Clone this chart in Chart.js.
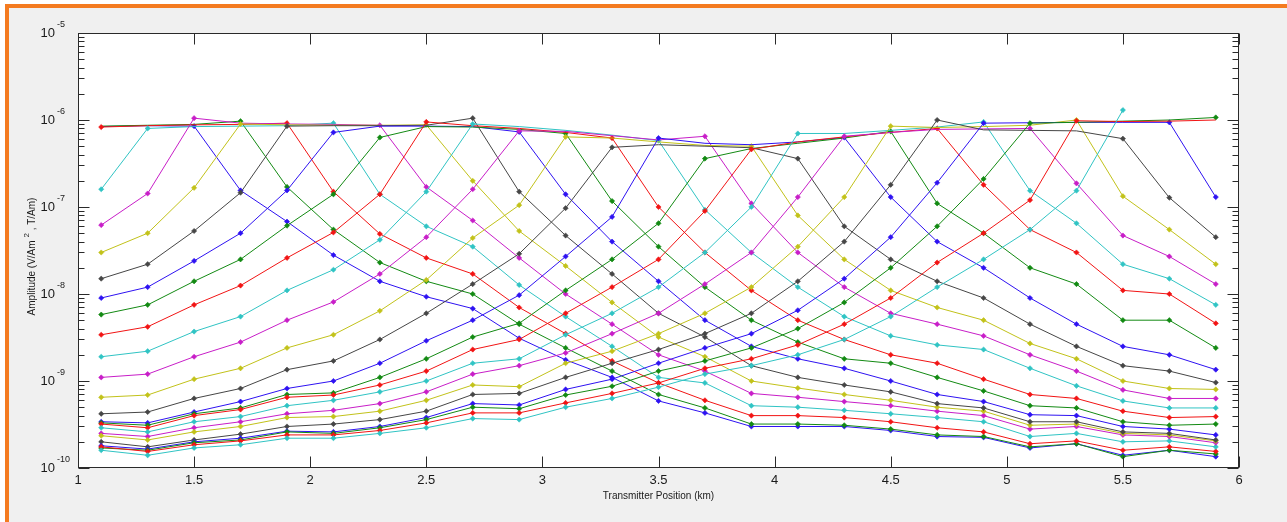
<!DOCTYPE html>
<html><head><meta charset="utf-8">
<script src="https://cdn.jsdelivr.net/npm/chart.js@4.4.1/dist/chart.umd.min.js"></script>
<style>
html,body{margin:0;padding:0;background:#fff;width:1287px;height:522px;overflow:hidden}
#frame{position:absolute;left:5px;top:4px;width:1282px;height:518px;box-sizing:border-box;border-left:4px solid #f47b20;border-top:4px solid #f47b20;background:#f0f0f0}
#c{position:absolute;left:0;top:0}
</style></head><body>
<div id="frame"></div>
<canvas id="c" width="1287" height="522"></canvas>
<script>
// Transmitter positions (km)
const xPos = [1.1,1.3,1.5,1.7,1.9,2.1,2.3,2.5,2.7,2.9,3.1,3.3,3.5,3.7,3.9,4.1,4.3,4.5,4.7,4.9,5.1,5.3,5.5,5.7,5.9];
const xTicks = [1,1.5,2,2.5,3,3.5,4,4.5,5,5.5,6];
const yExpTicks = [-10,-9,-8,-7,-6,-5];

// Amplitude per receiver (one array per receiver curve)
const s_m1 = [8.4e-7,8.6e-7,8.5e-7,1.55e-7,6.8e-8,2.8e-8,1.4e-8,9.3e-9,6.8e-9,3.1e-9,1.75e-9,1.1e-9,5.9e-10,4.3e-10,3.0e-10,3.0e-10,3.0e-10,2.7e-10,2.3e-10,2.25e-10,1.7e-10,1.9e-10,1.4e-10,1.6e-10,1.35e-10];
const s_0 = [8.5e-7,8.7e-7,8.9e-7,9.7e-7,1.7e-7,5.5e-8,2.3e-8,1.4e-8,1.0e-8,4.5e-9,2.4e-9,1.3e-9,7.0e-10,4.9e-10,3.2e-10,3.2e-10,3.1e-10,2.8e-10,2.4e-10,2.3e-10,1.75e-10,1.9e-10,1.35e-10,1.6e-10,1.45e-10];
const s_1 = [8.3e-7,8.6e-7,8.8e-7,8.9e-7,9.2e-7,1.5e-7,4.9e-8,2.6e-8,1.7e-8,7.0e-9,3.5e-9,1.7e-9,9.5e-10,6.0e-10,4.0e-10,4.0e-10,3.8e-10,3.4e-10,2.9e-10,2.6e-10,1.9e-10,2.05e-10,1.6e-10,1.75e-10,1.55e-10];
const s_2 = [1.6e-7,8.0e-7,8.4e-7,8.5e-7,8.6e-7,9.2e-7,1.4e-7,6.0e-8,3.5e-8,1.27e-8,5.5e-9,2.5e-9,1.1e-9,9.5e-10,5.2e-10,5.0e-10,4.6e-10,4.2e-10,3.8e-10,3.4e-10,2.3e-10,2.5e-10,2.0e-10,2.05e-10,1.75e-10];
const s_3 = [6.2e-8,1.43e-7,1.05e-6,9.2e-7,9.0e-7,8.9e-7,8.7e-7,1.7e-7,7.0e-8,2.6e-8,1.0e-8,4.5e-9,2.0e-9,1.3e-9,7.2e-10,6.5e-10,5.8e-10,5.2e-10,4.5e-10,4.0e-10,2.8e-10,3.0e-10,2.4e-10,2.3e-10,1.95e-10];
const s_4 = [3.0e-8,5.0e-8,1.66e-7,9.0e-7,8.8e-7,8.7e-7,8.7e-7,8.8e-7,2.0e-7,5.3e-8,2.1e-8,8.0e-9,3.2e-9,1.9e-9,1.0e-9,8.3e-10,7.0e-10,6.0e-10,5.0e-10,4.5e-10,3.1e-10,3.2e-10,2.5e-10,2.4e-10,2.05e-10];
const s_5 = [1.5e-8,2.2e-8,5.3e-8,1.46e-7,8.5e-7,8.6e-7,8.6e-7,8.7e-7,1.05e-6,1.5e-7,4.7e-8,1.7e-8,6.0e-9,3.2e-9,1.5e-9,1.1e-9,9.0e-10,7.5e-10,5.5e-10,4.9e-10,3.4e-10,3.4e-10,2.6e-10,2.5e-10,2.1e-10];
const s_6 = [9.0e-9,1.2e-8,2.4e-8,5.0e-8,1.55e-7,7.2e-7,8.5e-7,8.5e-7,8.4e-7,7.3e-7,1.4e-7,4.0e-8,1.4e-8,5.0e-9,2.5e-9,1.8e-9,1.4e-9,1.0e-9,7.0e-10,5.8e-10,4.1e-10,4.0e-10,3.0e-10,2.8e-10,2.4e-10];
const s_7 = [5.8e-9,7.5e-9,1.4e-8,2.5e-8,6.1e-8,1.4e-7,6.3e-7,8.4e-7,8.3e-7,7.8e-7,7.0e-7,1.17e-7,3.5e-8,1.2e-8,5.0e-9,2.8e-9,1.8e-9,1.6e-9,1.1e-9,7.7e-10,5.2e-10,4.9e-10,3.4e-10,3.1e-10,3.2e-10];
const s_8 = [3.4e-9,4.2e-9,7.5e-9,1.25e-8,2.6e-8,5.1e-8,1.4e-7,9.5e-7,8.6e-7,8.0e-7,7.2e-7,6.2e-7,1.0e-7,3.0e-8,1.1e-8,5.0e-9,3.0e-9,2.0e-9,1.6e-9,1.05e-9,7.0e-10,6.3e-10,4.5e-10,3.8e-10,3.9e-10];
const s_9 = [1.9e-9,2.2e-9,3.7e-9,5.5e-9,1.1e-8,1.9e-8,4.2e-8,1.5e-7,9.0e-7,8.4e-7,7.6e-7,6.7e-7,5.8e-7,9.3e-8,3.0e-8,1.2e-8,5.5e-9,3.3e-9,2.6e-9,2.3e-9,1.4e-9,8.8e-10,5.9e-10,4.9e-10,4.9e-10];
const s_10 = [1.1e-9,1.2e-9,1.9e-9,2.8e-9,5.0e-9,8.1e-9,1.7e-8,4.5e-8,1.6e-7,7.5e-7,7.4e-7,6.6e-7,5.9e-7,6.5e-7,1.1e-7,3.0e-8,1.2e-8,6.0e-9,4.5e-9,3.3e-9,2.0e-9,1.3e-9,7.9e-10,6.3e-10,6.3e-10];
const s_11 = [6.5e-10,6.9e-10,1.05e-9,1.4e-9,2.4e-9,3.4e-9,6.4e-9,1.45e-8,4.4e-8,1.05e-7,6.4e-7,6.2e-7,5.6e-7,5.1e-7,5.0e-7,8.0e-8,2.5e-8,1.1e-8,7.0e-9,5.0e-9,2.7e-9,1.8e-9,1.0e-9,8.2e-10,8.0e-10];
const s_12 = [4.2e-10,4.4e-10,6.3e-10,8.2e-10,1.35e-9,1.7e-9,3.0e-9,6.0e-9,1.3e-8,2.9e-8,9.7e-8,4.85e-7,5.2e-7,5.0e-7,4.8e-7,3.6e-7,6.0e-8,2.5e-8,1.4e-8,9.0e-9,4.5e-9,2.5e-9,1.5e-9,1.3e-9,9.6e-10];
const s_13 = [3.4e-10,3.3e-10,4.4e-10,5.8e-10,8.2e-10,1.0e-9,1.6e-9,2.9e-9,5.0e-9,9.7e-9,2.7e-8,7.7e-8,6.2e-7,5.4e-7,5.2e-7,5.6e-7,6.3e-7,1.3e-7,4.0e-8,2.0e-8,9.0e-9,4.5e-9,2.5e-9,2.0e-9,1.35e-9];
const s_14 = [3.3e-10,3.1e-10,4.2e-10,4.9e-10,7.0e-10,7.3e-10,1.1e-9,1.8e-9,3.2e-9,4.6e-9,1.1e-8,2.5e-8,6.5e-8,3.6e-7,4.7e-7,5.4e-7,6.2e-7,7.4e-7,1.1e-7,5.0e-8,2.0e-8,1.3e-8,5.0e-9,5.0e-9,2.4e-9];
const s_15 = [3.2e-10,2.9e-10,4.0e-10,4.7e-10,6.5e-10,6.9e-10,9.0e-10,1.3e-9,2.3e-9,3.0e-9,6.0e-9,1.2e-8,2.5e-8,9.0e-8,4.6e-7,5.6e-7,6.4e-7,7.2e-7,8.0e-7,1.8e-7,5.5e-8,3.0e-8,1.1e-8,1.0e-8,4.6e-9];
const s_16 = [2.9e-10,2.6e-10,3.4e-10,3.9e-10,5.2e-10,6.0e-10,7.5e-10,1.0e-9,1.6e-9,1.8e-9,3.4e-9,6.0e-9,1.2e-8,3.0e-8,1.0e-7,7.0e-7,7.0e-7,7.6e-7,8.3e-7,9.5e-7,1.54e-7,6.5e-8,2.2e-8,1.5e-8,7.5e-9];
const s_17 = [2.5e-10,2.3e-10,2.9e-10,3.4e-10,4.2e-10,4.6e-10,5.5e-10,7.5e-10,1.2e-9,1.5e-9,2.1e-9,3.5e-9,6.0e-9,1.3e-8,3.0e-8,1.3e-7,6.5e-7,7.2e-7,7.8e-7,7.9e-7,8.0e-7,1.87e-7,4.7e-8,2.7e-8,1.3e-8];
const s_18 = [2.35e-10,2.1e-10,2.6e-10,3.0e-10,3.8e-10,3.9e-10,4.5e-10,6.0e-10,9.0e-10,8.6e-10,1.6e-9,2.2e-9,3.5e-9,6.0e-9,1.2e-8,3.5e-8,1.3e-7,8.5e-7,8.2e-7,8.4e-7,8.7e-7,1.0e-6,1.33e-7,5.5e-8,2.2e-8];
const s_19 = [2.0e-10,1.75e-10,2.1e-10,2.45e-10,3.0e-10,3.2e-10,3.6e-10,4.5e-10,7.0e-10,7.2e-10,1.1e-9,1.6e-9,2.3e-9,3.5e-9,6.0e-9,1.4e-8,4.0e-8,1.8e-7,1.0e-6,7.7e-7,7.6e-7,7.5e-7,6.1e-7,1.28e-7,4.5e-8];
const s_20 = [1.8e-10,1.65e-10,2.0e-10,2.2e-10,2.65e-10,2.6e-10,3.0e-10,3.8e-10,5.5e-10,5.3e-10,8.0e-10,1.05e-9,1.6e-9,2.4e-9,3.5e-9,6.5e-9,1.5e-8,4.5e-8,1.9e-7,9.2e-7,9.3e-7,9.4e-7,9.4e-7,9.4e-7,1.3e-7];
const s_21 = [1.7e-10,1.6e-10,1.95e-10,2.1e-10,2.6e-10,2.5e-10,2.9e-10,3.6e-10,5.0e-10,4.8e-10,6.9e-10,8.7e-10,1.3e-9,1.7e-9,2.4e-9,4.0e-9,8.0e-9,2.0e-8,6.0e-8,2.1e-7,9.2e-7,9.4e-7,9.7e-7,1.0e-6,1.07e-6];
const s_22 = [1.75e-10,1.55e-10,1.85e-10,2.05e-10,2.4e-10,2.4e-10,2.7e-10,3.3e-10,4.3e-10,4.3e-10,5.6e-10,7.2e-10,9.5e-10,1.4e-9,1.8e-9,2.6e-9,4.5e-9,9.0e-9,2.3e-8,5.0e-8,1.2e-7,9.8e-7,9.6e-7,9.7e-7,1.0e-6];
const s_23 = [1.6e-10,1.4e-10,1.7e-10,1.85e-10,2.2e-10,2.2e-10,2.5e-10,2.9e-10,3.7e-10,3.6e-10,5.0e-10,6.3e-10,8.5e-10,1.2e-9,1.5e-9,2.0e-9,3.0e-9,5.5e-9,1.2e-8,2.5e-8,5.5e-8,1.54e-7,1.3e-6,null,null];

// index (into xPos) where each curve reaches its peak; the next points up to peak+4 are the unmarked flat top
const peakIdx = [-2,-1,0,1,2,3,4,5,6,7,8,9,10,11,12,13,14,15,16,17,18,19,20,21,22];
const flatSteps = 4;

const series = [s_m1,s_0,s_1,s_2,s_3,s_4,s_5,s_6,s_7,s_8,s_9,s_10,s_11,s_12,s_13,s_14,s_15,s_16,s_17,s_18,s_19,s_20,s_21,s_22,s_23];
const palette = ['#2e12f2','#138a13','#f21414','#30c4c4','#c81ec8','#c2c21a','#464646'];

const datasets = series.map((vals,i)=>({
  data: vals.map((v,j)=>({x:xPos[j], y:v})),
  borderColor: palette[i%7],
  backgroundColor: palette[i%7],
  borderWidth: 1,
  pointRadius: vals.map((v,j)=> (j>peakIdx[i] && j<peakIdx[i]+flatSteps) ? 0 : 2.6),
  pointStyle: 'rectRot',
  pointBorderWidth: 0.6,
  pointBorderColor: palette[i%7],
  tension: 0,
  spanGaps: false,
  order: -i
}));

const FONT = '"Liberation Sans", Arial, Helvetica, sans-serif';

const matlabAxes = {
  id: 'matlabAxes',
  afterDraw(chart){
    const {ctx, chartArea:a, scales:{x,y}} = chart;
    ctx.save();
    const L = Math.round(a.left)+0.5, R = Math.round(a.right)-0.5, T = Math.round(a.top)+0.5, B = Math.round(a.bottom)-0.5;
    ctx.strokeStyle = '#2a2a2a';
    ctx.lineWidth = 1;
    ctx.strokeRect(L, T, R-L, B-T);
    ctx.beginPath();
    xTicks.forEach(v=>{
      const px = Math.round(x.getPixelForValue(v))+0.5;
      ctx.moveTo(px,B); ctx.lineTo(px,B-11);
      ctx.moveTo(px,T); ctx.lineTo(px,T+11);
    });
    yExpTicks.forEach((e,k)=>{
      for(let m=1;m<=9;m++){
        if(k===yExpTicks.length-1 && m>1) break;
        const py = Math.round(y.getPixelForValue(m*Math.pow(10,e)))+0.5;
        const len = m===1 ? 11 : 6;
        ctx.moveTo(L,py); ctx.lineTo(L+len,py);
        ctx.moveTo(R,py); ctx.lineTo(R-len,py);
      }
    });
    ctx.stroke();

    ctx.fillStyle = '#1a1a1a';
    ctx.font = '13px '+FONT;
    ctx.textAlign = 'center';
    ctx.textBaseline = 'middle';
    xTicks.forEach(v=> ctx.fillText(String(v), x.getPixelForValue(v), a.bottom+12));

    yExpTicks.forEach(e=>{
      const py = y.getPixelForValue(Math.pow(10,e));
      ctx.font = '13px '+FONT;
      ctx.textAlign = 'right';
      ctx.fillText('10', a.left-23, py);
      ctx.font = '9px '+FONT;
      ctx.textAlign = 'left';
      ctx.fillText(String(e), a.left-21, py-8);
    });

    // x title
    ctx.font = '10px '+FONT;
    ctx.textAlign = 'center';
    ctx.fillText('Transmitter Position (km)', (a.left+a.right)/2, a.bottom+28);

    // y title with superscript
    ctx.translate(32, (a.top+a.bottom)/2+6);
    ctx.rotate(-Math.PI/2);
    const p1 = 'Amplitude (V/Am ', p2 = '2', p3 = ' , T/Am)';
    ctx.font = '10px '+FONT;
    const w1 = ctx.measureText(p1).width, w3 = ctx.measureText(p3).width;
    ctx.font = '8px '+FONT;
    const w2 = ctx.measureText(p2).width;
    let sx = -(w1+w2+w3)/2;
    ctx.textAlign = 'left';
    ctx.font = '10px '+FONT;
    ctx.fillText(p1, sx, 0);
    ctx.font = '8px '+FONT;
    ctx.fillText(p2, sx+w1, -5);
    ctx.font = '10px '+FONT;
    ctx.fillText(p3, sx+w1+w2, 0);
    ctx.restore();
  }
};

new Chart(document.getElementById('c'), {
  type: 'line',
  data: { datasets },
  options: {
    responsive: false,
    animation: false,
    devicePixelRatio: 1,
    events: [],
    layout: { padding: { left: 78, top: 33, right: 48, bottom: 54 } },
    plugins: { legend: { display: false }, tooltip: { enabled: false } },
    scales: {
      x: { type: 'linear', min: 1, max: 6, display: false },
      y: { type: 'logarithmic', min: 1e-10, max: 1e-5, display: false }
    }
  },
  plugins: [matlabAxes, {
    id: 'whiteArea',
    beforeDatasetsDraw(chart){
      const {ctx, chartArea:a} = chart;
      ctx.save(); ctx.fillStyle = '#ffffff';
      ctx.fillRect(a.left, a.top, a.right-a.left, a.bottom-a.top);
      ctx.restore();
    }
  }]
});
</script></body></html>
